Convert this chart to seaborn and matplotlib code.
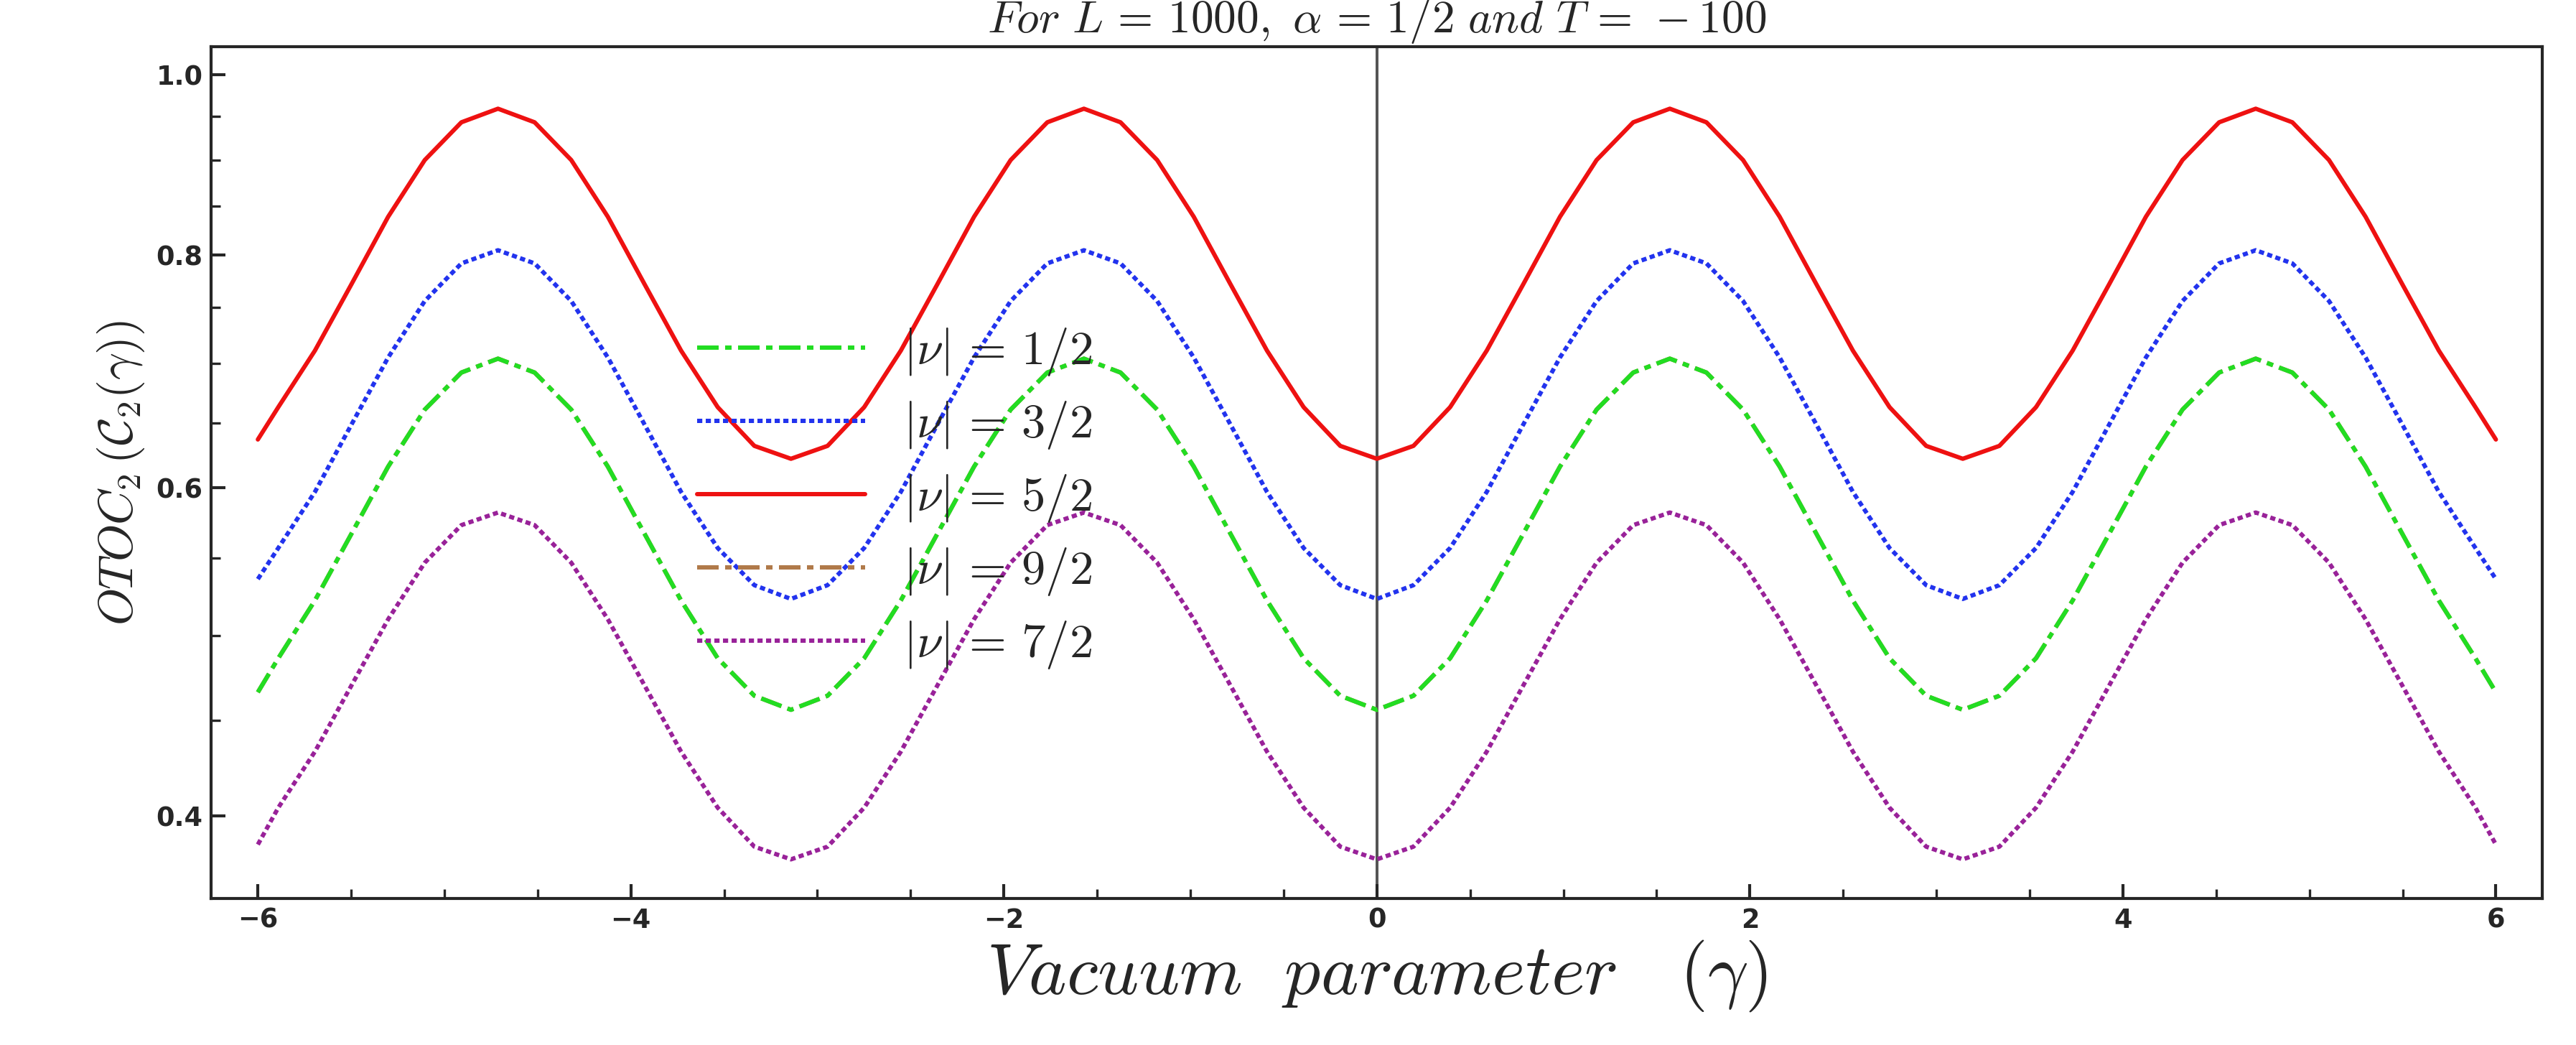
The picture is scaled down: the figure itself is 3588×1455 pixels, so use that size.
import numpy as np
import pandas as pd
import seaborn as sns
import matplotlib
matplotlib.use("Agg")
import matplotlib.pyplot as plt

# One half-period profile (trough -> peak) sampled at steps of pi/16 in gamma,
# read from the chart; curves are periodic with period pi (trough at gamma = 0).
step = np.pi / 16
red_profile = [0.622, 0.632, 0.663, 0.711, 0.772, 0.839, 0.900, 0.943, 0.959]
blue_profile = [0.523, 0.532, 0.557, 0.597, 0.649, 0.705, 0.756, 0.792, 0.805]
green_profile = [0.456, 0.464, 0.486, 0.522, 0.567, 0.616, 0.661, 0.692, 0.704]
brown_profile = list(green_profile)
purple_profile = [0.379, 0.385, 0.404, 0.433, 0.470, 0.510, 0.547, 0.573, 0.582]
# values at the ends gamma = +-6
red_end, blue_end, green_end, brown_end, purple_end = 0.637, 0.536, 0.466, 0.466, 0.386
x_end = 6.0

labels = [r"$|\nu|\,=\,1/2$", r"$|\nu|\,=\,3/2$", r"$|\nu|\,=\,5/2$", r"$|\nu|\,=\,9/2$", r"$|\nu|\,=\,7/2$"]
profiles = [green_profile, blue_profile, red_profile, brown_profile, purple_profile]
ends = [green_end, blue_end, red_end, brown_end, purple_end]
colors = ["#22dd22", "#2233ee", "#ee1111", "#b07a4a", "#992299"]
styles = [(0, (5, 1.5, 1.5, 1.5)), (0, (1.2, 0.8)), "-", (0, (5, 1.5, 1.5, 1.5)), (0, (1.2, 0.8))]
zorders = [4, 3, 3, 3.5, 3]

plt.rcParams["mathtext.fontset"] = "cm"
sns.set_theme(style="ticks")
plt.rcParams["mathtext.fontset"] = "cm"
fig = plt.figure(figsize=(14.95, 6.0625), dpi=240)
ax = fig.add_axes([0.082, 0.14, 0.905, 0.815])

kmax = int(x_end / step)
ks = list(range(-kmax, kmax + 1))
for prof, e, lab, c, ls, z in zip(profiles, ends, labels, colors, styles, zorders):
    xs = [-x_end] + [k * step for k in ks] + [x_end]
    ys = [e]
    for k in ks:
        m = abs(k) % 16
        ys.append(prof[m] if m <= 8 else prof[16 - m])
    ys.append(e)
    df = pd.DataFrame({"x": xs, "y": ys})
    sns.lineplot(data=df, x="x", y="y", ax=ax, color=c, linestyle=ls, lw=1.8, label=lab, zorder=z)

ax.axvline(0, color="#555555", lw=1.2, zorder=0)
ax.set_yscale("log")
ax.set_xlim(-6.25, 6.25)
ax.set_ylim(0.361, 1.035)
ax.set_xticks([-6, -4, -2, 0, 2, 4, 6])
ax.set_yticks([0.4, 0.6, 0.8, 1.0])
ax.set_yticklabels(["0.4", "0.6", "0.8", "1.0"])
ax.yaxis.set_minor_locator(matplotlib.ticker.FixedLocator([0.45, 0.5, 0.55, 0.65, 0.7, 0.75, 0.85, 0.9, 0.95]))
ax.yaxis.set_minor_formatter(matplotlib.ticker.NullFormatter())
ax.xaxis.set_minor_locator(matplotlib.ticker.AutoMinorLocator())
ax.tick_params(labelsize=11, direction="in")
ax.tick_params(which="minor", direction="in")
for t in ax.get_xticklabels() + ax.get_yticklabels():
    t.set_fontweight("bold")
ax.set_xlabel(r"$Vacuum\ \ parameter\ \ \ (\gamma)$", fontsize=30, labelpad=2)
ax.set_ylabel(r"$OTOC_2\,(\mathcal{C}_2(\gamma))$", fontsize=20)
ax.set_title(r"$For\ L\,=\,1000,\ \alpha\,=\,1/2\ and\ T\,=\,-100$", fontsize=19, pad=6)
leg = ax.legend(loc="center left", bbox_to_anchor=(0.19, 0.47), frameon=False,
                fontsize=20, handlelength=3.5, labelspacing=0.45)
fig.savefig("out.png", dpi=240)
